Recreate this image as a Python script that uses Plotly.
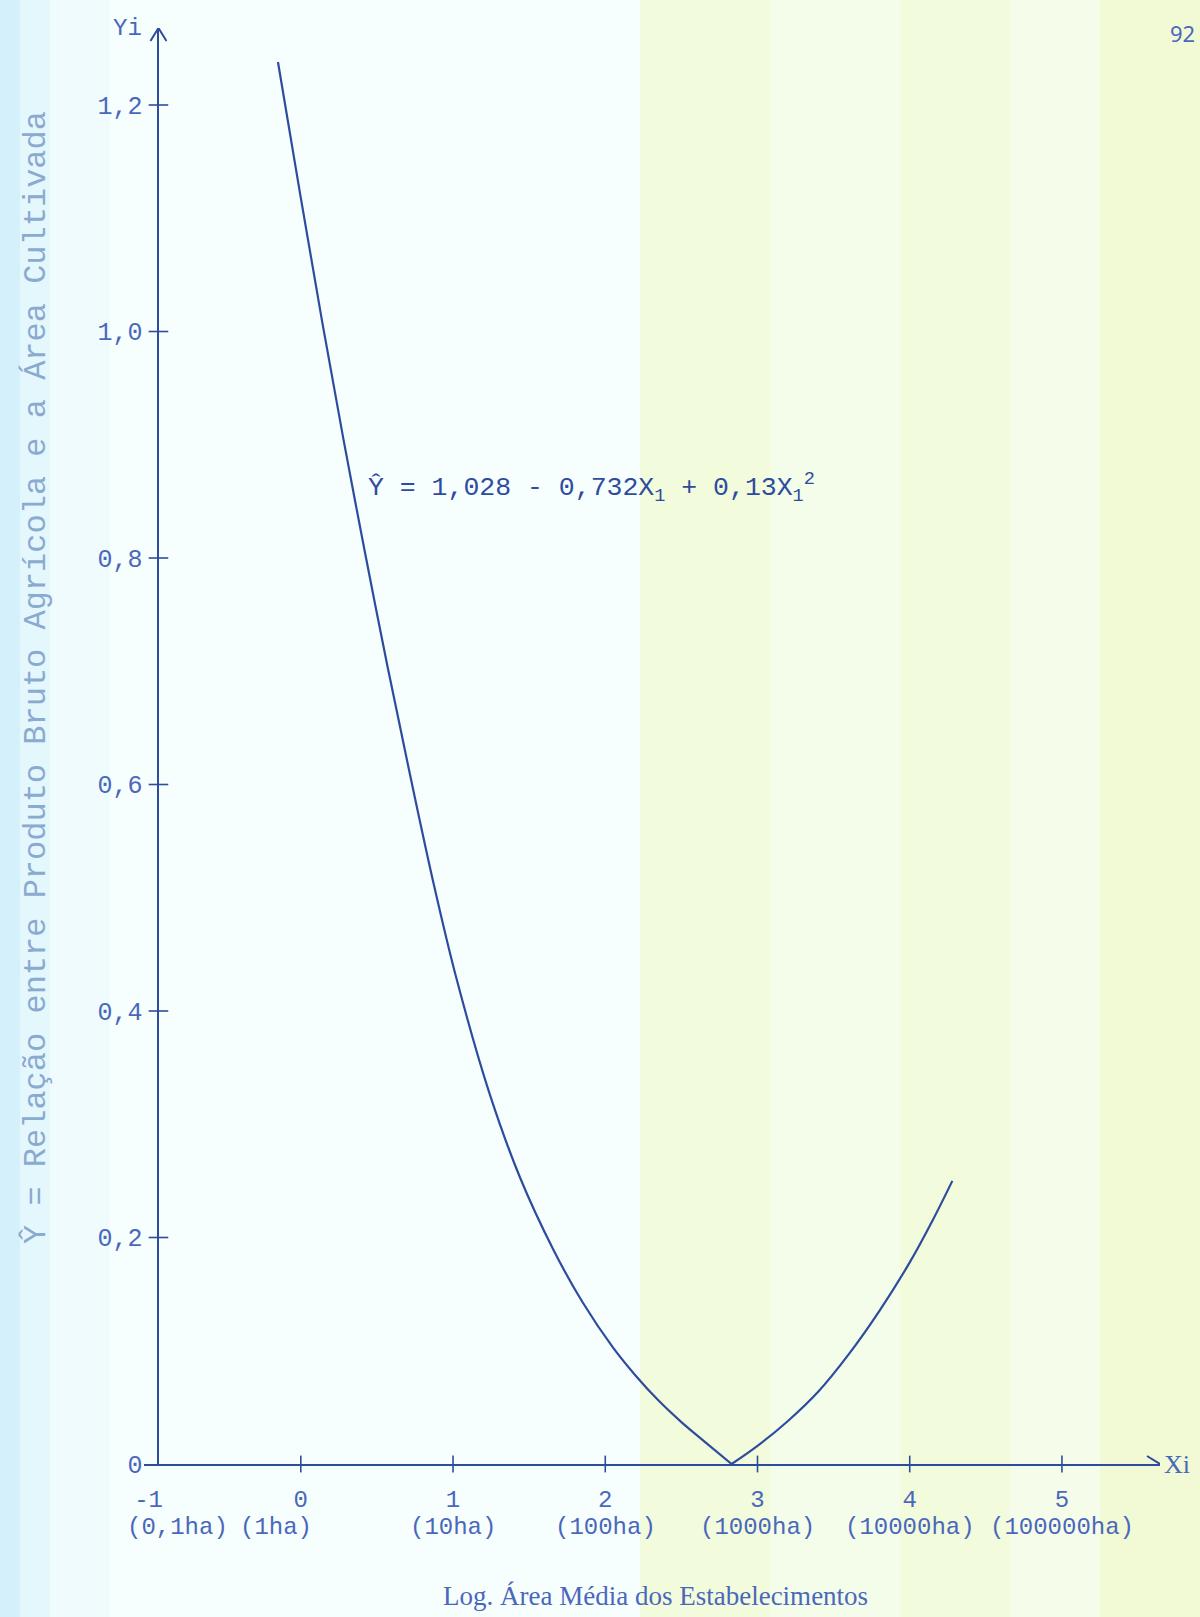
import plotly.graph_objects as go

# ---------------- data ----------------
x_ticks = [-1, 0, 1, 2, 3, 4, 5]
x_tick_labels = ["-1", "0", "1", "2", "3", "4", "5"]
x_tick_areas = ["(0,1ha)", "(1ha)", "(10ha)", "(100ha)", "(1000ha)", "(10000ha)", "(100000ha)"]
y_ticks = [0, 0.2, 0.4, 0.6, 0.8, 1.0, 1.2]
y_tick_labels = ["0", "0,2", "0,4", "0,6", "0,8", "1,0", "1,2"]

# curve (left branch down to the minimum, right branch up)
curve_left_x = [-0.15, 0.00, 0.14, 0.28, 0.42, 0.57, 0.72, 0.87, 1.02, 1.24, 1.44, 1.66, 1.85, 2.05, 2.20, 2.35, 2.50, 2.65, 2.83]
curve_left_y = [1.238, 1.118, 1.009, 0.905, 0.806, 0.704, 0.607, 0.514, 0.430, 0.327, 0.253, 0.189, 0.143, 0.103, 0.078, 0.056, 0.037, 0.020, 0.000]
curve_right_x = [2.83, 3.00, 3.20, 3.40, 3.60, 3.80, 4.00, 4.15, 4.28]
curve_right_y = [0.000, 0.016, 0.038, 0.064, 0.097, 0.135, 0.178, 0.215, 0.250]

equation = "Ŷ = 1,028 - 0,732X<sub>1</sub> + 0,13X<sub>1</sub><sup>2</sup>"
x_title = "Log. Área Média dos Estabelecimentos"
y_title = "Ŷ = Relação entre Produto Bruto Agrícola e a Área Cultivada"
page_number = "92"

# ---------------- layout constants ----------------
W, H = 1200, 1617
ML, MR, MT, MB = 144, 40, 28, 153
X_RANGE = [-1.03, 5.644]
Y_RANGE = [0.0, 1.268]
YAXIS_X = -0.935
# horizontal shift (in axis units) of the typed area labels relative to their tick
AREA_SHIFT = [0.19, -0.16, 0.0, 0.0, 0.0, 0.0, 0.0]

INK = "#2e4c9e"
LABEL = "#4a68bb"
MONO = "Liberation Mono"

pw = W - ML - MR
ph = H - MT - MB
px_x = pw / (X_RANGE[1] - X_RANGE[0])
px_y = ph / (Y_RANGE[1] - Y_RANGE[0])


def paper_x(px):
    return (px - ML) / pw


def paper_y(py):
    return (H - MB - py) / ph


fig = go.Figure()

# curve
for cx, cy in ((curve_left_x, curve_left_y), (curve_right_x, curve_right_y)):
    fig.add_trace(go.Scatter(x=cx, y=cy, mode="lines",
                             line=dict(color=INK, width=2.2, shape="spline", smoothing=1.0),
                             hoverinfo="skip", showlegend=False))

# tick crosses on the axes
fig.add_trace(go.Scatter(x=x_ticks[1:], y=[0] * (len(x_ticks) - 1), mode="markers",
                         marker=dict(symbol="line-ns-open", size=12, color=INK,
                                     line=dict(color=INK, width=1.6)),
                         cliponaxis=False, hoverinfo="skip", showlegend=False))
fig.add_trace(go.Scatter(x=[YAXIS_X] * (len(y_ticks) - 1), y=y_ticks[1:], mode="markers",
                         marker=dict(symbol="line-ew-open", size=14, color=INK,
                                     line=dict(color=INK, width=1.6)),
                         cliponaxis=False, hoverinfo="skip", showlegend=False))

# arrow heads (chevrons) at the ends of the axes
ah_w, ah_l = 8, 13
fig.add_trace(go.Scatter(
    x=[YAXIS_X - ah_w / px_x, YAXIS_X, YAXIS_X + ah_w / px_x],
    y=[Y_RANGE[1] - ah_l / px_y, Y_RANGE[1], Y_RANGE[1] - ah_l / px_y],
    mode="lines", line=dict(color=INK, width=2), cliponaxis=False,
    hoverinfo="skip", showlegend=False))
fig.add_trace(go.Scatter(
    x=[X_RANGE[1] - ah_l / px_x, X_RANGE[1], X_RANGE[1] - ah_l / px_x],
    y=[ah_w / px_y, 0, -ah_w / px_y],
    mode="lines", line=dict(color=INK, width=2), cliponaxis=False,
    hoverinfo="skip", showlegend=False))

# background tint of the scanned page
bands = [
    (0, 20, "#d3f0fb"), (20, 50, "#e4f7fc"), (50, 110, "#effbfd"),
    (640, 770, "#f2fbdb"), (770, 900, "#f4fde9"), (900, 1010, "#f2fbdc"),
    (1010, 1100, "#f5fdea"), (1100, 1200, "#f1fad4"),
]
shapes = []
for x0, x1, col in bands:
    shapes.append(dict(type="rect", xref="paper", yref="paper",
                       x0=paper_x(x0), x1=paper_x(x1), y0=paper_y(H), y1=paper_y(0),
                       fillcolor=col, line=dict(width=0), layer="below"))

annotations = [
    dict(text=equation, x=0.427, y=0.862, xref="x", yref="y", xanchor="left", yanchor="middle",
         showarrow=False, font=dict(family=MONO, size=26.5, color=INK)),
    dict(text="Yi", x=YAXIS_X, y=Y_RANGE[1], xref="x", yref="y", xanchor="right", yanchor="middle",
         xshift=-14, showarrow=False, font=dict(family=MONO, size=24, color=LABEL)),
    dict(text="Xi", x=X_RANGE[1], y=0, xref="x", yref="y", xanchor="left", yanchor="middle",
         xshift=2, showarrow=False, font=dict(family="Liberation Serif", size=26, color=LABEL)),
    dict(text=x_title, x=paper_x(655), y=paper_y(1596), xref="paper", yref="paper",
         xanchor="center", yanchor="middle", showarrow=False,
         font=dict(family="Liberation Serif", size=27, color=LABEL)),
    dict(text=y_title, x=paper_x(36), y=paper_y(678), xref="paper", yref="paper",
         xanchor="center", yanchor="middle", textangle=-90, showarrow=False,
         font=dict(family=MONO, size=32, color="#8aaad0")),
    dict(text=page_number, x=paper_x(1182), y=paper_y(33), xref="paper", yref="paper",
         xanchor="center", yanchor="middle", showarrow=False,
         font=dict(family="Noto Sans", size=22, color=LABEL)),
]
# second row of x labels: area in hectares
for xv, txt, sh in zip(x_ticks, x_tick_areas, AREA_SHIFT):
    annotations.append(dict(text=txt, x=xv + sh, y=paper_y(1527), xref="x", yref="paper",
                            xanchor="center", yanchor="middle", showarrow=False,
                            font=dict(family=MONO, size=24, color=LABEL)))

fig.update_layout(
    width=W, height=H, autosize=False,
    margin=dict(l=ML, r=MR, t=MT, b=MB, pad=0),
    paper_bgcolor="#f6fefe", plot_bgcolor="rgba(0,0,0,0)",
    shapes=shapes, annotations=annotations, showlegend=False,
    xaxis=dict(range=X_RANGE, showgrid=False, zeroline=False, showline=True,
               linecolor=INK, linewidth=2, ticks="", tickmode="array", tickvals=x_ticks,
               ticktext=x_tick_labels, ticklabelstandoff=12,
               tickfont=dict(family=MONO, size=24, color=LABEL)),
    yaxis=dict(range=Y_RANGE, showgrid=False, zeroline=False, showline=True,
               anchor="free", position=(YAXIS_X - X_RANGE[0]) / (X_RANGE[1] - X_RANGE[0]),
               linecolor=INK, linewidth=2, ticks="", tickmode="array", tickvals=y_ticks,
               ticktext=y_tick_labels, ticklabelstandoff=10,
               tickfont=dict(family=MONO, size=25, color=LABEL)),
)

fig.write_html("out.html", config={"displayModeBar": False},
               post_script="document.body.style.margin='0px';")
